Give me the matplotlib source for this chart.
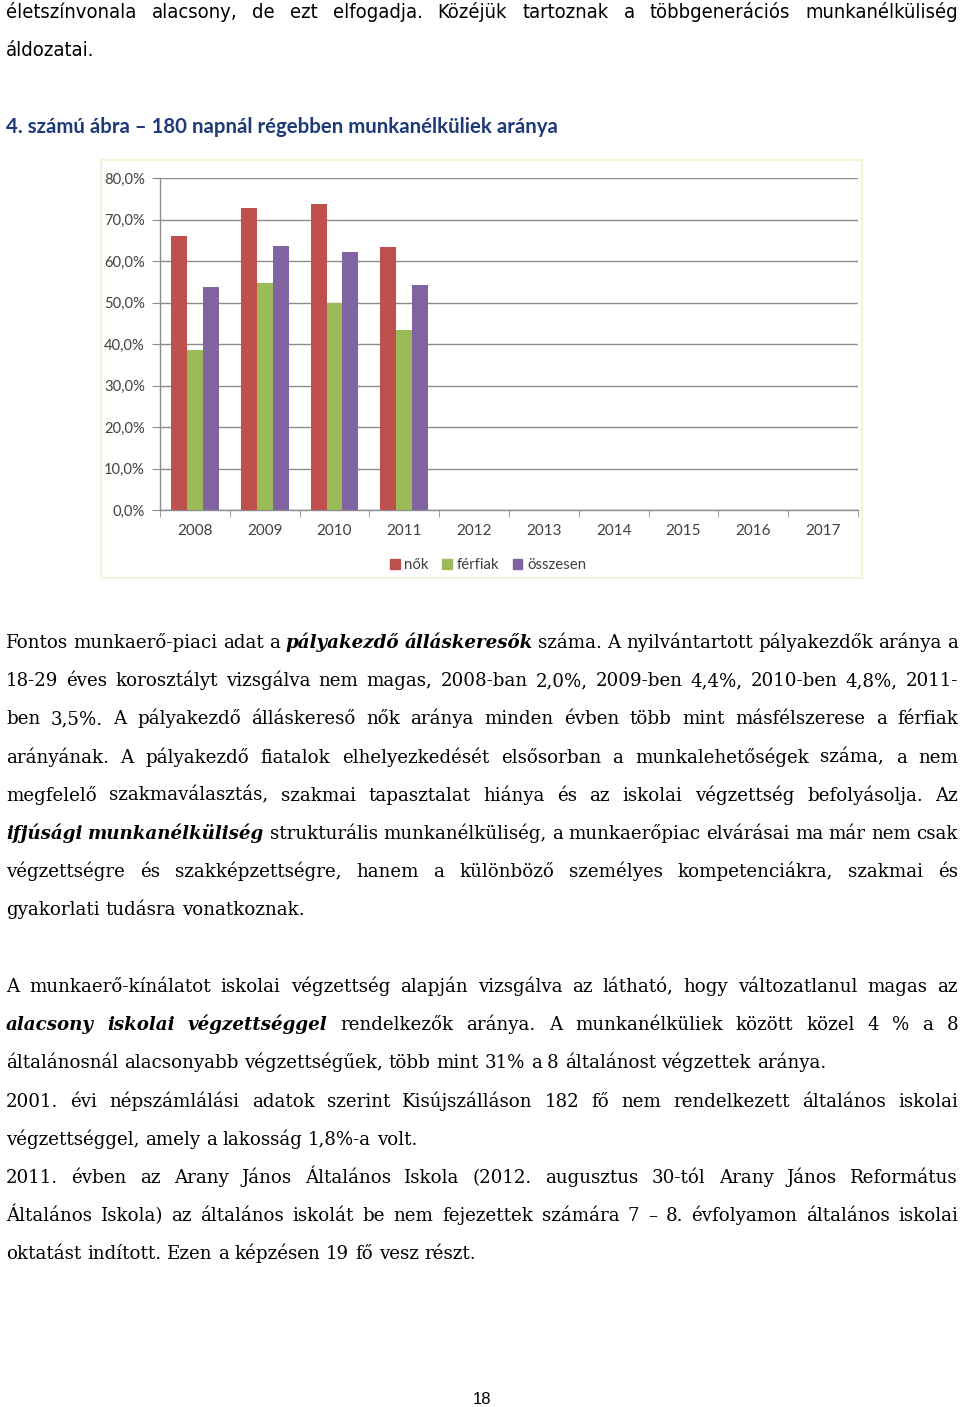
import matplotlib
matplotlib.use('Agg')
import matplotlib.pyplot as plt
from matplotlib.patches import Rectangle, Patch
import numpy as np

# ---------------- data ----------------
years = ['2008', '2009', '2010', '2011', '2012', '2013', '2014', '2015', '2016', '2017']
nok = [66.1, 72.8, 73.7, 63.4]
ferfiak = [38.5, 54.8, 50.0, 43.3]
osszesen = [53.7, 63.7, 62.2, 54.1]
series_names = ['nők', 'férfiak', 'összesen']
ytick_values = [0, 10, 20, 30, 40, 50, 60, 70, 80]
ytick_labels = ['0,0%', '10,0%', '20,0%', '30,0%', '40,0%', '50,0%', '60,0%', '70,0%', '80,0%']
title = '4. számú ábra – 180 napnál régebben munkanélküliek aránya'

top_lines = [
    ('életszínvonala alacsony, de ezt elfogadja. Közéjük tartoznak a többgenerációs munkanélküliség', True),
    ('áldozatai.', False),
]
para1 = [
    ('Fontos munkaerő-piaci adat a *pályakezdő* *álláskeresők* száma. A nyilvántartott pályakezdők aránya a', True),
    ('18-29 éves korosztályt vizsgálva nem magas, 2008-ban 2,0%, 2009-ben 4,4%, 2010-ben 4,8%, 2011-', True),
    ('ben 3,5%. A pályakezdő álláskereső nők aránya minden évben több mint másfélszerese a férfiak', True),
    ('arányának. A pályakezdő fiatalok elhelyezkedését elsősorban a munkalehetőségek száma, a nem', True),
    ('megfelelő szakmaválasztás, szakmai tapasztalat hiánya és az iskolai végzettség befolyásolja. Az', True),
    ('*ifjúsági* *munkanélküliség* strukturális munkanélküliség, a munkaerőpiac elvárásai ma már nem csak', True),
    ('végzettségre és szakképzettségre, hanem a különböző személyes kompetenciákra, szakmai és', True),
    ('gyakorlati tudásra vonatkoznak.', False),
]
para2 = [
    ('A munkaerő-kínálatot iskolai végzettség alapján vizsgálva az látható, hogy változatlanul magas az', True),
    ('*alacsony* *iskolai* *végzettséggel* rendelkezők aránya. A munkanélküliek között közel 4 % a 8', True),
    ('általánosnál alacsonyabb végzettségűek, több mint 31% a 8 általánost végzettek aránya.', False),
    ('2001. évi népszámlálási adatok szerint Kisújszálláson 182 fő nem rendelkezett általános iskolai', True),
    ('végzettséggel, amely a lakosság 1,8%-a volt.', False),
    ('2011. évben az Arany János Általános Iskola (2012. augusztus 30-tól Arany János Református', True),
    ('Általános Iskola) az általános iskolát be nem fejezettek számára 7 – 8. évfolyamon általános iskolai', True),
    ('oktatást indított. Ezen a képzésen 19 fő vesz részt.', False),
]
page_number = '18'

# ---------------- figure ----------------
W, H = 960, 1407
fig = plt.figure(figsize=(W / 100, H / 100), dpi=100)
fig.patch.set_facecolor('white')
renderer = fig.canvas.get_renderer()


def fy(y):
    return 1 - y / H


def draw_line(text, y_base, justify, fs, family, x0=6, x1=958, color='black', stretch='normal'):
    words = text.split(' ')
    texts, widths = [], []
    for w in words:
        emph = w.startswith('*') and w.endswith('*') and len(w) > 2
        s = w[1:-1] if emph else w
        t = fig.text(0, fy(y_base), s, fontsize=fs, family=family,
                     fontweight='bold' if emph else 'normal',
                     fontstyle='italic' if emph else 'normal',
                     fontstretch=stretch,
                     va='baseline', ha='left', color=color)
        widths.append(t.get_window_extent(renderer).width)
        texts.append(t)
    a = fig.text(0, 0, 'x x', fontsize=fs, family=family, fontstretch=stretch)
    b = fig.text(0, 0, 'xx', fontsize=fs, family=family, fontstretch=stretch)
    sp = a.get_window_extent(renderer).width - b.get_window_extent(renderer).width
    a.remove(); b.remove()
    if justify and len(words) > 1:
        gap = (x1 - x0 - sum(widths)) / (len(words) - 1)
    else:
        gap = sp
    x = x0
    for t, w in zip(texts, widths):
        t.set_x(x / W)
        x += w + gap


serif = ['DejaVu Serif']
narrow = ['DejaVu Sans']

# top lines
for i, (txt, j) in enumerate(top_lines):
    draw_line(txt, 18 + i * 38.3, j, 14.5, narrow, stretch='condensed')

# title
fig.text(6 / W, fy(133), title, fontsize=14.7, family=['Lato', 'DejaVu Sans'],
         fontweight='bold', color='#1F3A78', va='baseline', ha='left')

body_fs = 13.15
for i, (txt, j) in enumerate(para1):
    draw_line(txt, 648 + i * 38.2, j, body_fs, serif)
for i, (txt, j) in enumerate(para2):
    draw_line(txt, 992 + i * 38.2, j, body_fs, serif)

fig.text(482 / W, fy(1404), page_number, fontsize=12, family=['Liberation Sans', 'DejaVu Sans'],
         ha='center', va='baseline', color='black')

# ---------------- chart ----------------
fig.add_artist(Rectangle((101 / W, fy(578)), (862 - 101) / W, (578 - 160) / H,
                         transform=fig.transFigure, fill=False, edgecolor='#F3F1CF', lw=1.2))

ax = fig.add_axes([160 / W, fy(510), (858 - 160) / W, (510 - 178) / H])
x = np.arange(len(years))
bw = 0.229
n = len(nok)
ax.bar(x[:n] - bw, nok, bw, color='#C0504D', label=series_names[0], zorder=3)
ax.bar(x[:n], ferfiak, bw, color='#9BBB59', label=series_names[1], zorder=3)
ax.bar(x[:n] + bw, osszesen, bw, color='#8064A2', label=series_names[2], zorder=3)

ax.set_xlim(-0.5, len(years) - 0.5)
ax.set_ylim(0, 80)
ax.set_yticks(ytick_values)
ax.set_yticklabels(ytick_labels)
ax.set_xticks(x)
ax.set_xticklabels(years)
ax.set_xticks(np.arange(len(years) + 1) - 0.5, minor=True)
ax.tick_params(axis='x', which='major', length=0, pad=10, labelsize=11, labelcolor='#404040')
ax.tick_params(axis='x', which='minor', length=5, color='#8C8C8C', direction='out')
ax.tick_params(axis='y', length=6, color='#8C8C8C', pad=5, labelsize=10.6, labelcolor='#404040')
for lab in ax.get_xticklabels() + ax.get_yticklabels():
    lab.set_family(['Lato', 'DejaVu Sans'])
ax.yaxis.grid(True, color='#8C8C8C', lw=1, zorder=0)
ax.set_axisbelow(True)
for s in ['top', 'right']:
    ax.spines[s].set_visible(False)
for s in ['left', 'bottom']:
    ax.spines[s].set_color('#8C8C8C')
    ax.spines[s].set_linewidth(1)
ax.patch.set_alpha(0)

handles = [Patch(color=c, label=l) for c, l in zip(['#C0504D', '#9BBB59', '#8064A2'], series_names)]
fig.legend(handles=handles, loc='center', bbox_to_anchor=(488 / W, fy(565)), ncol=3, frameon=False,
           handlelength=0.65, handleheight=0.65, handletextpad=0.3, columnspacing=0.9,
           prop={'family': ['Lato', 'DejaVu Sans'], 'size': 10.8}, labelcolor='#404040')

fig.savefig('out.png', dpi=100, facecolor='white')
